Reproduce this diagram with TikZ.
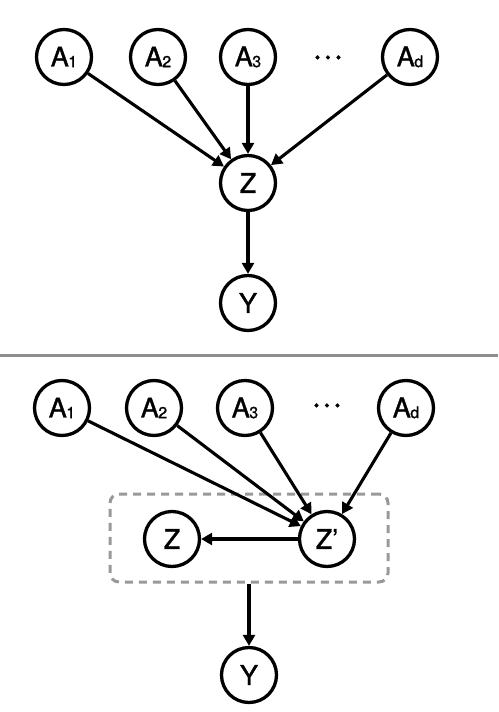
\documentclass[tikz,border=0pt]{standalone}
\usepackage{fontspec}
\setmainfont{TeX Gyre Heros}[FakeBold=1.3]
\usetikzlibrary{arrows.meta}
\definecolor{sepgray}{HTML}{8E8E8E}
\definecolor{boxgray}{HTML}{999999}
\newcommand{\sbx}[1]{{\kern-0.5pt\fontsize{16}{16}\selectfont\raisebox{-0.8pt}{#1}}}
\tikzset{
  var/.style={circle,draw=black,line width=3.3pt,minimum size=55pt,inner sep=0pt,
    font=\fontsize{27}{27}\selectfont},
  edge/.style={line width=3.1pt,-{Triangle[length=11pt,width=12pt]}},
  dotsnode/.style={font=\fontsize{36}{36}\selectfont,inner sep=0pt},
}
\begin{document}
\begin{tikzpicture}[x=1pt,y=-1pt]
\useasboundingbox (0,0) rectangle (498,712);
% top graph
\node[var] (ta1) at (64,57) {A\sbx{1}};
\node[var] (ta2) at (158,57) {A\sbx{2}};
\node[var] (ta3) at (248,57) {A\sbx{3}};
\node[dotsnode] (tdots) at (328,61) {·\kern0.5pt·\kern0.5pt·};
\node[var] (tad) at (410,57) {A\sbx{d}};
\node[var] (tz) at (248,183) {Z};
\node[var] (ty) at (248,303) {Y};
\draw[edge] (ta1) -- (tz);
\draw[edge] (ta2) -- (tz);
\draw[edge] (ta3) -- (tz);
\draw[edge] (tad) -- (tz);
\draw[edge] (tz) -- (ty);
% separator
\coordinate (sl) at (0,355);
\coordinate (sr) at (498,355);
\draw[sepgray,line width=3pt] (sl) -- (sr);
% bottom graph
\node[var] (ba1) at (62,408) {A\sbx{1}};
\node[var] (ba2) at (154,408) {A\sbx{2}};
\node[var] (ba3) at (245,408) {A\sbx{3}};
\node[dotsnode] (bdots) at (327,409) {·\kern0.5pt·\kern0.5pt·};
\node[var] (bad) at (406,408) {A\sbx{d}};
\node[var] (bzp) at (327,539) {Z’};
\node[var] (bz) at (172,539) {Z};
\node[var] (by) at (249,675) {Y};
\node[draw=boxgray,line width=3pt,dash pattern=on 8pt off 6pt,rounded corners=9pt,
  minimum width=278pt,minimum height=88pt,inner sep=0pt] (box) at (249,538) {};
\draw[edge] (ba1) -- (bzp);
\draw[edge] (ba2) -- (bzp);
\draw[edge] (ba3) -- (bzp);
\draw[edge] (bad) -- (bzp);
\draw[edge] (bzp) -- (bz);
\draw[edge] (box.south) -- (by);
\end{tikzpicture}
\end{document}
